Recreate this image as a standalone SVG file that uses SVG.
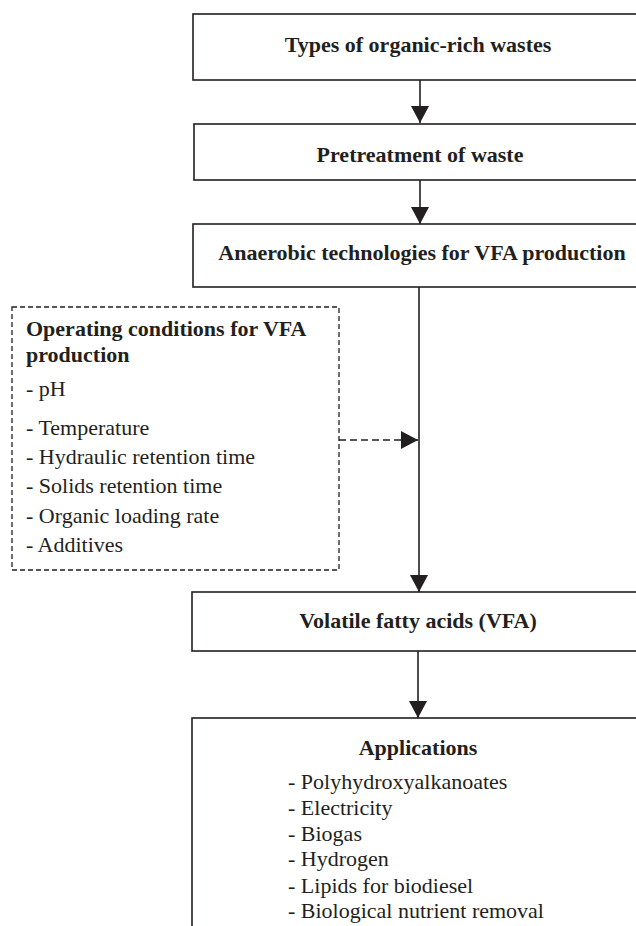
<svg xmlns="http://www.w3.org/2000/svg" width="636" height="926" viewBox="0 0 636 926">
<style>
.box{fill:#fff;stroke:#231f20;stroke-width:1.6}
.dbox{fill:none;stroke:#231f20;stroke-width:1.3;stroke-dasharray:5 3}
.t{font-family:"Liberation Serif","Times New Roman",serif;font-size:22px;fill:#231f20}
.b{font-weight:bold}
.c{text-anchor:middle}
.line{stroke:#231f20;stroke-width:1.6;fill:none}
.dash{stroke-dasharray:7 4}
</style>
<defs>
<marker id="ah" markerUnits="userSpaceOnUse" markerWidth="18" markerHeight="18" viewBox="0 0 18 18" refX="17" refY="9" orient="auto">
<path d="M0,0 L17,9 L0,18 Z" fill="#231f20"/>
</marker>
</defs>
<rect width="636" height="926" fill="#fff"/>
<g id="connectors">
<line class="line" x1="420" y1="80" x2="420" y2="123" marker-end="url(#ah)"/>
<line class="line" x1="420" y1="180" x2="420" y2="224" marker-end="url(#ah)"/>
<line class="line" x1="419" y1="287" x2="419" y2="592" marker-end="url(#ah)"/>
<line class="line dash" x1="339" y1="440" x2="418" y2="440" marker-end="url(#ah)"/>
<line class="line" x1="418" y1="651" x2="418" y2="718" marker-end="url(#ah)"/>
</g>
<g id="n1">
<rect class="box" x="193" y="14" width="460" height="66"/>
<text class="t b c" x="418" y="52">Types of organic-rich wastes</text>
</g>
<g id="n2">
<rect class="box" x="194" y="124" width="460" height="56"/>
<text class="t b c" x="420" y="162">Pretreatment of waste</text>
</g>
<g id="n3">
<rect class="box" x="193" y="224" width="460" height="63"/>
<text class="t b c" x="422" y="260">Anaerobic technologies for VFA production</text>
</g>
<g id="n4">
<rect class="dbox" x="12" y="307" width="327" height="263"/>
<text class="t b" x="26" y="336">Operating conditions for VFA</text>
<text class="t b" x="26" y="362">production</text>
<text class="t" x="26" y="396">- pH</text>
<text class="t" x="26" y="435">- Temperature</text>
<text class="t" x="26" y="464">- Hydraulic retention time</text>
<text class="t" x="26" y="493">- Solids retention time</text>
<text class="t" x="26" y="523">- Organic loading rate</text>
<text class="t" x="26" y="552">- Additives</text>
</g>
<g id="n5">
<rect class="box" x="192" y="592" width="460" height="59"/>
<text class="t b c" x="418" y="628">Volatile fatty acids (VFA)</text>
</g>
<g id="n6">
<rect class="box" x="192" y="718" width="460" height="240"/>
<text class="t b c" x="418" y="755">Applications</text>
<text class="t" x="288" y="789">- Polyhydroxyalkanoates</text>
<text class="t" x="288" y="815">- Electricity</text>
<text class="t" x="288" y="841">- Biogas</text>
<text class="t" x="288" y="866">- Hydrogen</text>
<text class="t" x="288" y="893">- Lipids for biodiesel</text>
<text class="t" x="288" y="918">- Biological nutrient removal</text>
</g>
</svg>
